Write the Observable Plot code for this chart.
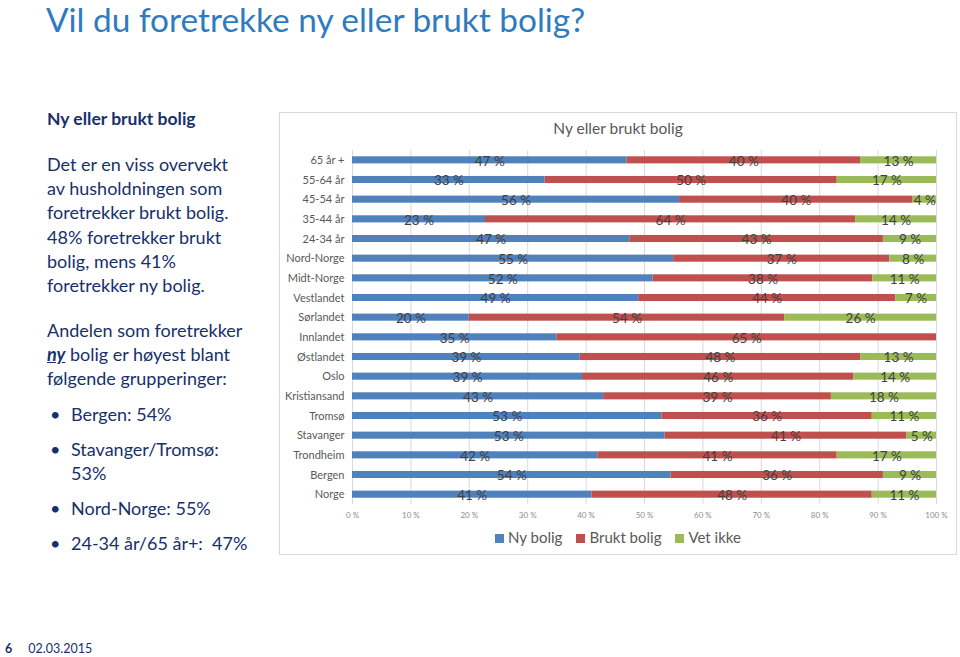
<!DOCTYPE html>
<html>
<head>
<meta charset="utf-8">
<script src="https://cdn.jsdelivr.net/npm/d3@7"></script>
<script src="https://cdn.jsdelivr.net/npm/@observablehq/plot@0.6"></script>
<style>
  html, body { margin: 0; padding: 0; background: #fff; }
  body { width: 960px; height: 657px; position: relative; overflow: hidden; font-family: Lato, "Open Sans", sans-serif; }
  #title { position: absolute; left: 46px; top: -1px; font-size: 33.4px; line-height: 40px; color: #2e7bbd; white-space: nowrap; }
  .lt { position: absolute; left: 47px; color: #17306b; font-size: 18px; line-height: 24.2px; white-space: nowrap; }
  .lt.h { font-weight: bold; font-size: 17.5px; }
  .bul { position: absolute; left: 50px; color: #17306b; font-size: 18px; line-height: 24.2px; }
  .bt { position: absolute; left: 71px; color: #17306b; font-size: 18px; line-height: 24.2px; white-space: nowrap; }
  #frame { position: absolute; left: 279px; top: 112px; width: 678px; height: 443px; border: 1px solid #d9d9d9; box-sizing: border-box; }
  #ctitle { position: absolute; left: 279px; width: 678px; top: 119px; text-align: center; font-size: 15.5px; color: #595959; }
  #chart { position: absolute; left: 280px; top: 145px; line-height: 0; }
  #legend { position: absolute; left: 279px; width: 678px; top: 528px; text-align: center; font-size: 15px; color: #595959; }
  #legend span.sw { display: inline-block; width: 9px; height: 9px; margin-right: 4px; vertical-align: 0px; }
  #legend span.item { margin: 0 7px; }
  #footer { position: absolute; left: 5px; top: 641px; font-size: 12.5px; color: #17306b; }
  #footer b { margin-right: 16px; }
</style>
</head>
<body>
<div id="title">Vil du foretrekke ny eller brukt bolig?</div>
<div class="lt h" style="top:107px">Ny eller brukt bolig</div>
<div class="lt" style="top:152px">Det er en viss overvekt<br>av husholdningen som<br>foretrekker brukt bolig.<br>48% foretrekker brukt<br>bolig, mens 41%<br>foretrekker ny bolig.</div>
<div class="lt" style="top:318px">Andelen som foretrekker<br><b><i><u>ny</u></i></b> bolig er høyest blant<br>følgende grupperinger:</div>
<div class="bul" style="top:402px">•</div><div class="bt" style="top:402px">Bergen: 54%</div>
<div class="bul" style="top:437px">•</div><div class="bt" style="top:437px">Stavanger/Tromsø:<br>53%</div>
<div class="bul" style="top:496px">•</div><div class="bt" style="top:496px">Nord-Norge: 55%</div>
<div class="bul" style="top:531px">•</div><div class="bt" style="top:531px">24-34 år/65 år+:&nbsp; 47%</div>
<div id="frame"></div>
<div id="ctitle">Ny eller brukt bolig</div>
<div id="chart"></div>
<div id="legend"></div>
<div id="footer"><b>6</b>02.03.2015</div>
<script>
const categories = ["65 år +", "55-64 år", "45-54 år", "35-44 år", "24-34 år", "Nord-Norge", "Midt-Norge", "Vestlandet", "Sørlandet", "Innlandet", "Østlandet", "Oslo", "Kristiansand", "Tromsø", "Stavanger", "Trondheim", "Bergen", "Norge"];
const nyBolig    = [47, 33, 56, 23, 47, 55, 52, 49, 20, 35, 39, 39, 43, 53, 53, 42, 54, 41];
const bruktBolig = [40, 50, 40, 64, 43, 37, 38, 44, 54, 65, 48, 46, 39, 36, 41, 41, 36, 48];
const vetIkke    = [13, 17, 4, 14, 9, 8, 11, 7, 26, 0, 13, 14, 18, 11, 5, 17, 9, 11];
const seriesNames = ["Ny bolig", "Brukt bolig", "Vet ikke"];
const seriesColors = ["#4f81bd", "#c0504d", "#9bbb59"];
const xTicks = [0, 0.1, 0.2, 0.3, 0.4, 0.5, 0.6, 0.7, 0.8, 0.9, 1];

const seriesValues = [nyBolig, bruktBolig, vetIkke];
const data = [];
categories.forEach((c, i) => {
  seriesNames.forEach((s, j) => data.push({cat: c, series: s, value: seriesValues[j][i]}));
});

const plot = Plot.plot({
  width: 676,
  height: 385,
  marginLeft: 72,
  marginRight: 20,
  marginTop: 5,
  marginBottom: 26,
  style: {fontFamily: "Lato, sans-serif", background: "transparent"},
  x: {domain: [0, 1], ticks: xTicks, tickFormat: d => Math.round(d * 100) + " %", label: null},
  y: {domain: categories, paddingInner: 0.64, paddingOuter: 0.32, round: false, label: null},
  color: {domain: seriesNames, range: seriesColors},
  marks: [
    Plot.gridX(xTicks, {stroke: "#d9d9d9", strokeOpacity: 1}),
    Plot.barX(data, Plot.stackX({offset: "normalize", order: seriesNames, x: "value", y: "cat", fill: "series"})),
    Plot.text(data, Plot.stackX({offset: "normalize", order: seriesNames, x: "value", y: "cat", z: "series",
      text: d => d.value > 0 ? d.value + " %" : "", fill: "#404040", fontSize: 13.5, dy: 1})),
    Plot.axisX({ticks: xTicks, tickFormat: d => Math.round(d * 100) + " %", tickSize: 0, tickPadding: 8, fontSize: 8, color: "#8c8c8c"}),
    Plot.axisY({tickSize: 0, tickPadding: 8, fontSize: 11, color: "#595959"})
  ]
});
document.getElementById("chart").appendChild(plot);

const legend = document.getElementById("legend");
seriesNames.forEach((s, i) => {
  const item = document.createElement("span");
  item.className = "item";
  item.innerHTML = `<span class="sw" style="background:${seriesColors[i]}"></span>${s}`;
  legend.appendChild(item);
});
</script>
</body>
</html>
